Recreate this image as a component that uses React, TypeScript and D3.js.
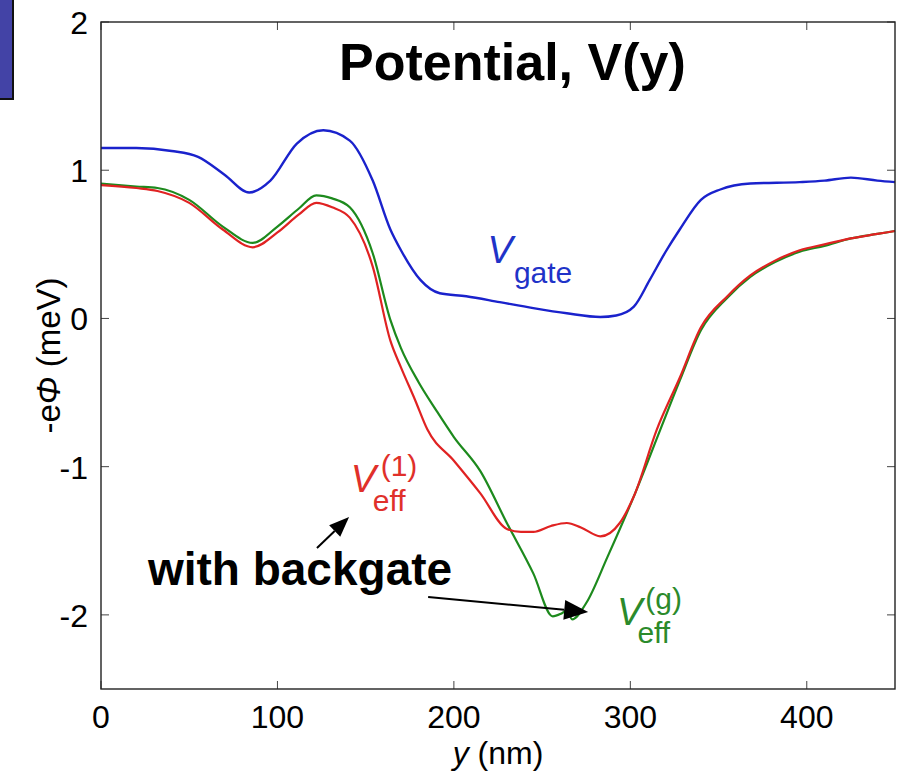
import React from 'react';
import * as d3 from 'd3';

// V_gate curve (nm, meV)
const gateX = [0, 20, 40, 55, 70, 84, 96, 111, 126, 141, 154, 164, 170, 181, 192, 207, 226, 245, 264, 283, 292, 302, 311, 320, 328, 340, 351, 368, 396, 410, 425, 440, 450];
const gateV = [1.15, 1.15, 1.13, 1.09, 0.97, 0.85, 0.93, 1.18, 1.27, 1.2, 0.93, 0.6, 0.46, 0.26, 0.17, 0.15, 0.11, 0.07, 0.035, 0.01, 0.02, 0.08, 0.26, 0.45, 0.6, 0.8, 0.87, 0.91, 0.92, 0.93, 0.95, 0.93, 0.92];

// V_eff^(g) (with backgate)
const effGX = [0, 20, 32, 50, 69, 86, 100, 112, 122, 131, 141, 154, 164, 170, 180, 190, 200, 215, 230, 245, 256, 261, 264, 267, 275, 287, 302, 317, 328, 340, 355, 368, 382, 396, 410, 425, 440, 450];
const effGV = [0.91, 0.89, 0.88, 0.8, 0.62, 0.51, 0.62, 0.74, 0.83, 0.81, 0.75, 0.44, -0.01, -0.2, -0.43, -0.62, -0.8, -1.03, -1.38, -1.72, -2.01, -1.99, -1.97, -2.03, -1.92, -1.61, -1.2, -0.75, -0.42, -0.08, 0.14, 0.28, 0.38, 0.45, 0.49, 0.54, 0.57, 0.59];

// V_eff^(1)
const eff1X = [0, 20, 32, 50, 69, 86, 100, 112, 122, 131, 141, 154, 164, 170, 178, 185, 200, 215, 230, 238, 245, 255, 264, 272, 283, 294, 302, 315, 328, 340, 355, 368, 382, 396, 410, 425, 440, 450];
const eff1V = [0.9, 0.88, 0.86, 0.78, 0.6, 0.48, 0.58, 0.7, 0.78, 0.75, 0.68, 0.35, -0.15, -0.33, -0.55, -0.75, -0.96, -1.18, -1.42, -1.44, -1.44, -1.4, -1.38, -1.41, -1.47, -1.38, -1.2, -0.75, -0.4, -0.06, 0.15, 0.29, 0.39, 0.46, 0.5, 0.54, 0.57, 0.59];

const xTicks = [0, 100, 200, 300, 400];
const yTicks = [-2, -1, 0, 1, 2];

const W = 899;
const H = 776;
const FONT = '"Liberation Sans", Arial, Helvetica, sans-serif';

const x = d3.scaleLinear().domain([0, 450]).range([101, 895]);
const y = d3.scaleLinear().domain([-2.5, 2]).range([689, 22]);

const line = d3.line<[number, number]>()
  .x(d => x(d[0]))
  .y(d => y(d[1]))
  .curve(d3.curveMonotoneX);

const zip = (xs: number[], vs: number[]) => xs.map((v, i) => [v, vs[i]] as [number, number]);

function Arrow({ from, to, head = 20, half = 8 }: { from: [number, number]; to: [number, number]; head?: number; half?: number }) {
  const x1 = x(from[0]), y1 = y(from[1]);
  const x2 = x(to[0]), y2 = y(to[1]);
  const a = Math.atan2(y2 - y1, x2 - x1);
  const bx = x2 - head * Math.cos(a), by = y2 - head * Math.sin(a);
  const px = -Math.sin(a) * half, py = Math.cos(a) * half;
  return (
    <g>
      <line x1={x1} y1={y1} x2={bx} y2={by} stroke="#000" strokeWidth={2} />
      <path d={`M${x2},${y2}L${bx + px},${by + py}L${bx - px},${by - py}Z`} fill="#000" />
    </g>
  );
}

export default function App() {
  const [x0, x1] = x.range();
  const [y0, y1] = y.range();
  const tick = 8;
  return (
    <svg width={W} height={H} style={{ position: 'absolute', left: 0, top: 0, background: '#fff' }} fontFamily={FONT}>
      {/* slide decoration top-left */}
      <rect x={-3} y={-3} width={16} height={102} fill="#4343a6" stroke="#111" strokeWidth={2} />

      {/* ticks, mirrored MATLAB style */}
      <g stroke="#444" strokeWidth={1}>
        {xTicks.map(t => (
          <g key={'x' + t}>
            <line x1={x(t)} x2={x(t)} y1={y0} y2={y0 - tick} />
            <line x1={x(t)} x2={x(t)} y1={y1} y2={y1 + tick} />
          </g>
        ))}
        {yTicks.map(t => (
          <g key={'y' + t}>
            <line x1={x0} x2={x0 + tick} y1={y(t)} y2={y(t)} />
            <line x1={x1} x2={x1 - tick} y1={y(t)} y2={y(t)} />
          </g>
        ))}
      </g>

      {/* curves */}
      <path d={line(zip(gateX, gateV)) || ''} fill="none" stroke="#1a22cc" strokeWidth={2.4} />
      <path d={line(zip(effGX, effGV)) || ''} fill="none" stroke="#1d8a1d" strokeWidth={2.2} />
      <path d={line(zip(eff1X, eff1V)) || ''} fill="none" stroke="#e02222" strokeWidth={2.2} />

      {/* frame */}
      <rect x={x0} y={y1} width={x1 - x0} height={y0 - y1} fill="none" stroke="#222" strokeWidth={1.4} />

      {/* tick labels */}
      <g fontSize={32} fill="#000">
        {xTicks.map(t => (
          <text key={'xl' + t} x={x(t)} y={728} textAnchor="middle">{t}</text>
        ))}
        {yTicks.map(t => (
          <text key={'yl' + t} x={88} y={y(t) + 12} textAnchor="end">{t}</text>
        ))}
      </g>

      {/* axis labels */}
      <text x={498} y={764} fontSize={32} textAnchor="middle">
        <tspan fontStyle="italic">y</tspan> (nm)
      </text>
      <text transform={`translate(60,${(y0 + y1) / 2}) rotate(-90)`} fontSize={33} textAnchor="middle">
        -e<tspan fontStyle="italic">Φ</tspan> (meV)
      </text>

      {/* title */}
      <text x={339} y={80} fontSize={52} fontWeight="bold">Potential, V(y)</text>

      {/* series labels */}
      <g fill="#1f33c8">
        <text x={x(219)} y={y(0.375)} fontSize={38} fontStyle="italic">V</text>
        <text x={x(234)} y={y(0.24)} fontSize={30}>gate</text>
      </g>
      <g fill="#e0302a">
        <text x={x(141.5)} y={y(-1.171)} fontSize={38} fontStyle="italic">V</text>
        <text x={x(158.5)} y={y(-1.06)} fontSize={30}>(1)</text>
        <text x={x(154)} y={y(-1.3)} fontSize={30}>eff</text>
      </g>
      <g fill="#2b8a2b">
        <text x={x(292.5)} y={y(-2.069)} fontSize={38} fontStyle="italic">V</text>
        <text x={x(308.5)} y={y(-1.96)} fontSize={30}>(g)</text>
        <text x={x(304)} y={y(-2.19)} fontSize={30}>eff</text>
      </g>

      {/* annotation */}
      <text x={x(26.6)} y={y(-1.8)} fontSize={46} fontWeight="bold">with backgate</text>
      <Arrow from={[122.4, -1.549]} to={[140.6, -1.34]} head={20} half={8} />
      <Arrow from={[185.4, -1.88]} to={[276.1, -1.981]} head={24} half={10} />
    </svg>
  );
}
